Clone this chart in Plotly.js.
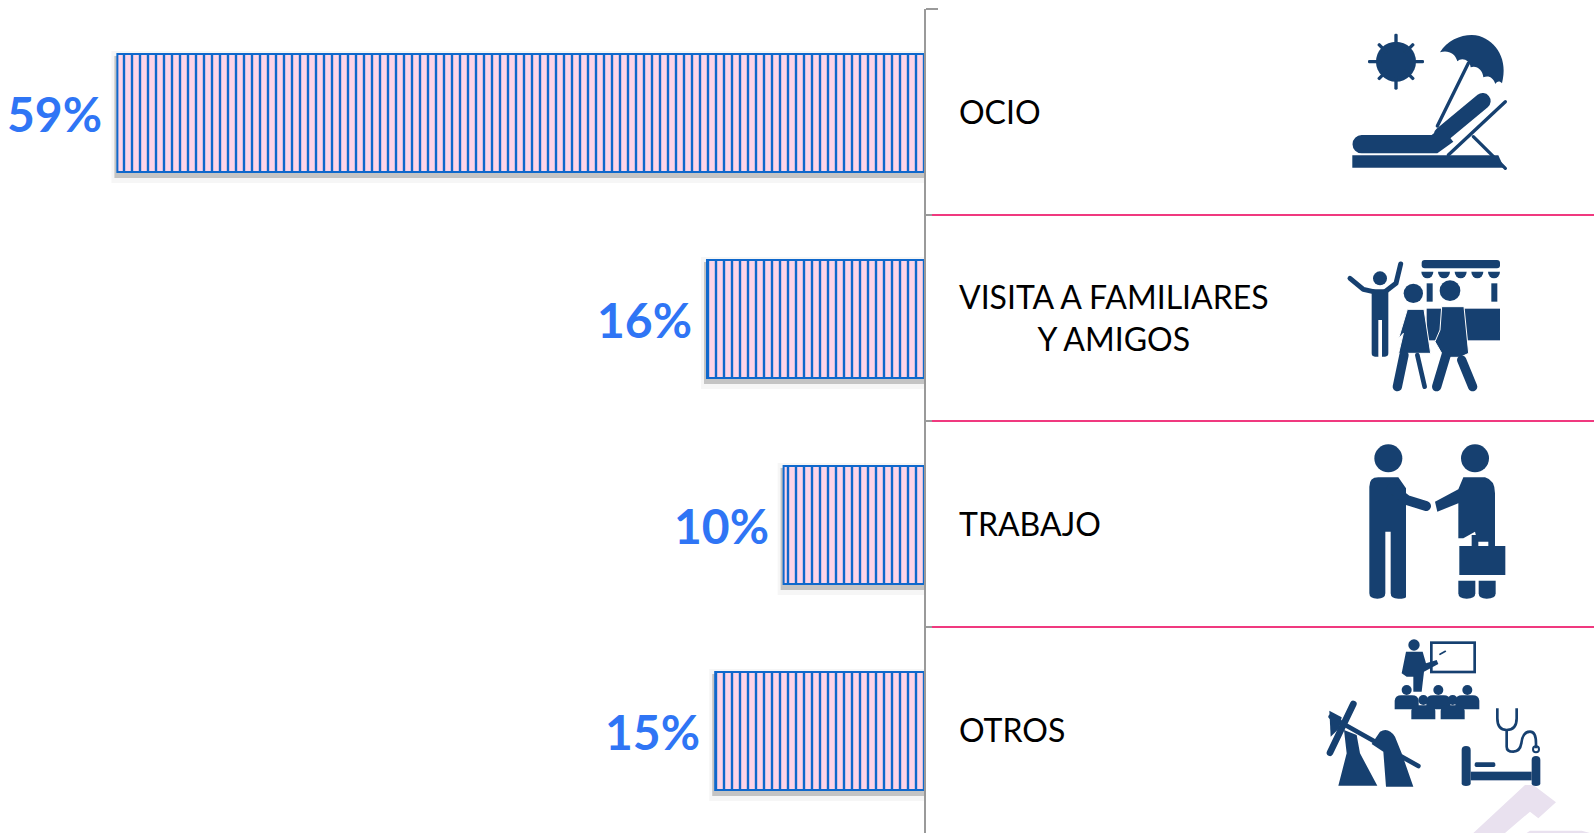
<!DOCTYPE html>
<html><head><meta charset="utf-8">
<script src="https://cdn.plot.ly/plotly-3.0.1.min.js"></script>
<style>html,body{margin:0;padding:0;background:#fff;overflow:hidden}#c{width:1594px;height:833px}</style>
</head><body><div id="c"></div>
<script>
// Data
const categories = ["OCIO", "VISITA A FAMILIARES<br>Y AMIGOS", "TRABAJO", "OTROS"];
const categoryKeys = ["ocio", "visita", "trabajo", "otros"];
const values = [59, 15.9, 10.3, 15.3];
const valueLabels = ["59%", "16%", "10%", "15%"];

const W = 1594, H = 833;
const NAVY = "#17406f";
const axisX = 924.5, pxPerUnit = 13.68;

function svgUri(w, h, body) {
  const s = `<svg xmlns="http://www.w3.org/2000/svg" width="${w}" height="${h}" viewBox="0 0 ${w*3} ${h*3}"><defs><filter id="b"><feGaussianBlur stdDeviation="1.6"/></filter></defs><g filter="url(#b)" fill="${NAVY}" stroke="none">${body}</g></svg>`;
  return "data:image/svg+xml;charset=utf-8," + encodeURIComponent(s);
}
function sl(pts, w, extra) {
  return `<polyline points="${pts}" fill="none" stroke="${NAVY}" stroke-width="${w}" stroke-linecap="round" stroke-linejoin="round" ${extra||""}/>`;
}
const sunSpikes = [0,45,90,135,180,225,270,315].map(a => {
  const len = a % 90 === 0 ? 84 : 76;
  return `<g transform="translate(228 125) rotate(${a})"><rect x="-5" y="-${len}" width="10" height="40" rx="4"/></g>`;}).join("");
const beach = `<circle cx="228" cy="125" r="60"/>${sunSpikes}
 <path d="M360 97 C385 55 440 38 478 48 C530 65 565 120 546 190 C538 180 530 185 526 192 C520 172 505 165 490 172 C488 150 470 135 452 142 C450 120 425 110 412 124 C405 100 385 90 360 97Z"/>
 ${sl("445,130 352,318",10)}
 ${sl("365,345 488,243",48)}
 <path d="M125 345 H335 L365 322 L400 365 L352 400 H125 A27 27 0 0 1 125 345Z"/>
 <path d="M97 406 H535 L552 443 H97Z"/>
 ${sl("385,405 556,245",10)}${sl("460,350 556,445",10)}`;
const visit = `<circle cx="180" cy="775" r="21"/>
 <path d="M155 808 H205 V1000 Q205 1010 195 1010 H186 V900 H175 V1010 H165 Q155 1010 155 1000Z"/>
 ${sl("90,775 130,808 160,815",15)}${sl("195,815 228,790 242,732",15)}
 <rect x="305" y="720" width="235" height="25" rx="9"/>
 ${[322,372,422,472,522].map(x=>`<path d="M${x-18} 755 H${x+18} A18 20 0 0 1 ${x-18} 755Z"/>`).join("")}
 <rect x="320" y="790" width="18" height="55"/><rect x="514" y="790" width="18" height="55"/>
 <rect x="320" y="866" width="220" height="95"/>
 <circle cx="280" cy="820" r="29"/><circle cx="390" cy="812" r="31"/>
 <path d="M262 868 H312 L332 1000 H236 L250 940 L236 955 Z" stroke="#fff" stroke-width="3"/>
 ${sl("252,1005 232,1100",28)}${sl("292,1005 314,1100",14)}
 <path d="M365 860 H432 L446 1000 L420 1012 H372 L345 965 L360 930Z" stroke="#fff" stroke-width="3"/>
 ${sl("380,1000 350,1100",28)}${sl("425,1020 458,1100",28)}`;
const deal = `<circle cx="205" cy="85" r="42"/><circle cx="465" cy="85" r="42"/>
 <path d="M175 142 H235 L258 175 V500 Q258 506 235 506 Q212 506 212 490 V305 H196 V490 Q196 506 172 506 Q148 506 148 490 V170 Q148 142 175 142Z"/>
 ${sl("215,175 260,210 318,228",30)}
 <path d="M430 142 H495 Q525 150 525 190 V325 H470 L465 305 L430 325 H415 L415 220 L352 245 L345 215 L415 178Z"/>
 <path d="M455 348 V315 H525 V348 H556 V435 H418 V348Z M475 348 H505 V335 H475Z" fill-rule="evenodd"/>
 <path d="M415 452 H466 V490 Q466 506 440 506 Q415 506 415 490Z"/>
 <path d="M476 452 H527 V490 Q527 506 500 506 Q476 506 476 490Z"/>`;
const audience = [[320,210],[415,210],[502,210],[370,240],[458,240]].map(([x,y]) =>
  `<circle cx="${x}" cy="${y}" r="15"/><path d="M${x-36} ${y+32} Q${x-34} ${y+16} ${x-16} ${y+16} H${x+16} Q${x+34} ${y+16} ${x+36} ${y+32} V${y+58} H${x-36}Z"/>`).join("");
const others = `<circle cx="342" cy="75" r="17"/>
 <path d="M318 95 H368 L378 130 L410 120 L415 132 L372 155 L365 215 H340 V170 H320 L305 160Z"/>
 <rect x="394" y="68" width="130" height="88" fill="none" stroke="${NAVY}" stroke-width="8"/>
 ${sl("420,103 436,94",5)}
 ${audience}
 ${sl("90,398 160,252",20)}${sl("92,290 355,438",14)}
 <path d="M88 272 L125 292 L118 325 L92 350Z"/>
 <path d="M115 497 L140 400 L132 330 L170 345 L180 400 L232 497Z"/>
 <path d="M215 372 L240 335 Q265 320 285 350 L305 400 L340 500 H258 L250 395Z"/>
 <path d="M485 390 Q485 378 498 378 Q512 378 512 390 V490 Q512 498 498 498 Q485 498 485 490Z"/>
 <path d="M695 420 Q695 408 708 408 Q721 408 721 420 V490 Q721 498 708 498 Q695 498 695 490Z"/>
 <rect x="512" y="455" width="183" height="26"/>
 <rect x="524" y="427" width="62" height="14" rx="5"/>
 <path d="M592 265 V295 Q592 330 620 330 Q650 330 650 295 V265" fill="none" stroke="${NAVY}" stroke-width="8"/>
 <path d="M620 330 V380 Q620 395 640 395 Q660 395 664 370 Q668 335 690 335 Q708 335 708 370 V385" fill="none" stroke="${NAVY}" stroke-width="8"/>
 <circle cx="708" cy="388" r="9" fill="none" stroke="${NAVY}" stroke-width="6"/>`;
const mark = `<path d="M520 639 L675 495 H700 L768 547 L715 595 L690 575 L615 639Z" fill="#e9e1ef"/><path d="M680 639 L690 632 H845 L870 639Z" fill="#e9e1ef"/>`;

// [left, top, width, height] of each decoration in page pixels
const icons = [
  [1320, 20, 220, 160, beach],
  [1320, 250, 220, 150, `<g transform="translate(0 -690)">${visit}</g>`],
  [1320, 430, 220, 180, deal],
  [1300, 620, 294, 213, `${mark}<g>${others}</g>`]
];
const images = icons.map(([x,y,w,h,b]) => ({
  source: svgUri(w,h,b), xref:"paper", yref:"paper",
  x:x/W, y:1-y/H, sizex:w/W, sizey:h/H, xanchor:"left", yanchor:"top", sizing:"stretch", layer:"above"
}));

const barWidth = 0.573, rowPx = 206, barShift = 1/rowPx;
const shapes = [];
// soft bar shadows
values.forEach((v,i)=>{
  const u = 1/rowPx, top = i-barWidth/2, bot = i+barWidth/2;
  shapes.push({type:"rect",layer:"below",xref:"x",yref:"y",x0:v+6/pxPerUnit,x1:0,y0:top-2*u,y1:bot+12*u,fillcolor:"rgba(0,0,0,0.035)",line:{width:0}});
  shapes.push({type:"rect",layer:"below",xref:"x",yref:"y",x0:v+3/pxPerUnit,x1:0,y0:top+3*u,y1:bot+7*u,fillcolor:"rgba(0,0,0,0.2)",line:{width:0}});
});
// pink separators between categories
[0.5,1.5,2.5].forEach(y=>shapes.push({type:"line",xref:"paper",yref:"y",x0:932/W,x1:1,y0:y,y1:y,line:{color:"#f0397f",width:2}}));

const annotations = [];
values.forEach((v,i)=>{
  annotations.push({x:v,y:i,xref:"x",yref:"y",text:valueLabels[i],showarrow:false,xanchor:"right",xshift:-13,yshift:-1,
    font:{family:"Lato",size:48,color:"#2f75f5",weight:700}});
  annotations.push({x:-(957-axisX)/pxPerUnit,y:i,xref:"x",yref:"y",text:categories[i],showarrow:false,xanchor:"left",align:"center",yshift:1,
    font:{family:"Lato",size:32,color:"#000"}});
});

Plotly.newPlot("c",[{
  type:"bar",orientation:"h",x:values,y:categoryKeys,width:barWidth,offset:-barWidth/2+barShift,
  marker:{color:"#fdd5e8",line:{color:"#0f68cc",width:2},
    pattern:{shape:"|",size:8,solidity:0.3,fgcolor:"#0f68cc",bgcolor:"#fdd5e8",fgopacity:1,fillmode:"replace"}},
  hoverinfo:"skip"
}],{
  width:W,height:H,margin:{l:0,r:0,t:0,b:0,pad:0},paper_bgcolor:"#fff",plot_bgcolor:"rgba(0,0,0,0)",
  showlegend:false,
  xaxis:{range:[axisX/pxPerUnit,-(W-axisX)/pxPerUnit],visible:false,domain:[0,1],fixedrange:true},
  yaxis:{type:"category",categoryorder:"array",categoryarray:categoryKeys,range:[3.5,-0.5],domain:[0,1-9/H],
    anchor:"free",position:axisX/W,side:"right",showline:true,linecolor:"#9a9a9a",linewidth:2,
    ticks:"outside",tickson:"boundaries",ticklen:12,tickcolor:"#9a9a9a",tickwidth:2,showticklabels:false,showgrid:false,zeroline:false,fixedrange:true},
  shapes,annotations,images
},{displayModeBar:false,staticPlot:true});
</script></body></html>
